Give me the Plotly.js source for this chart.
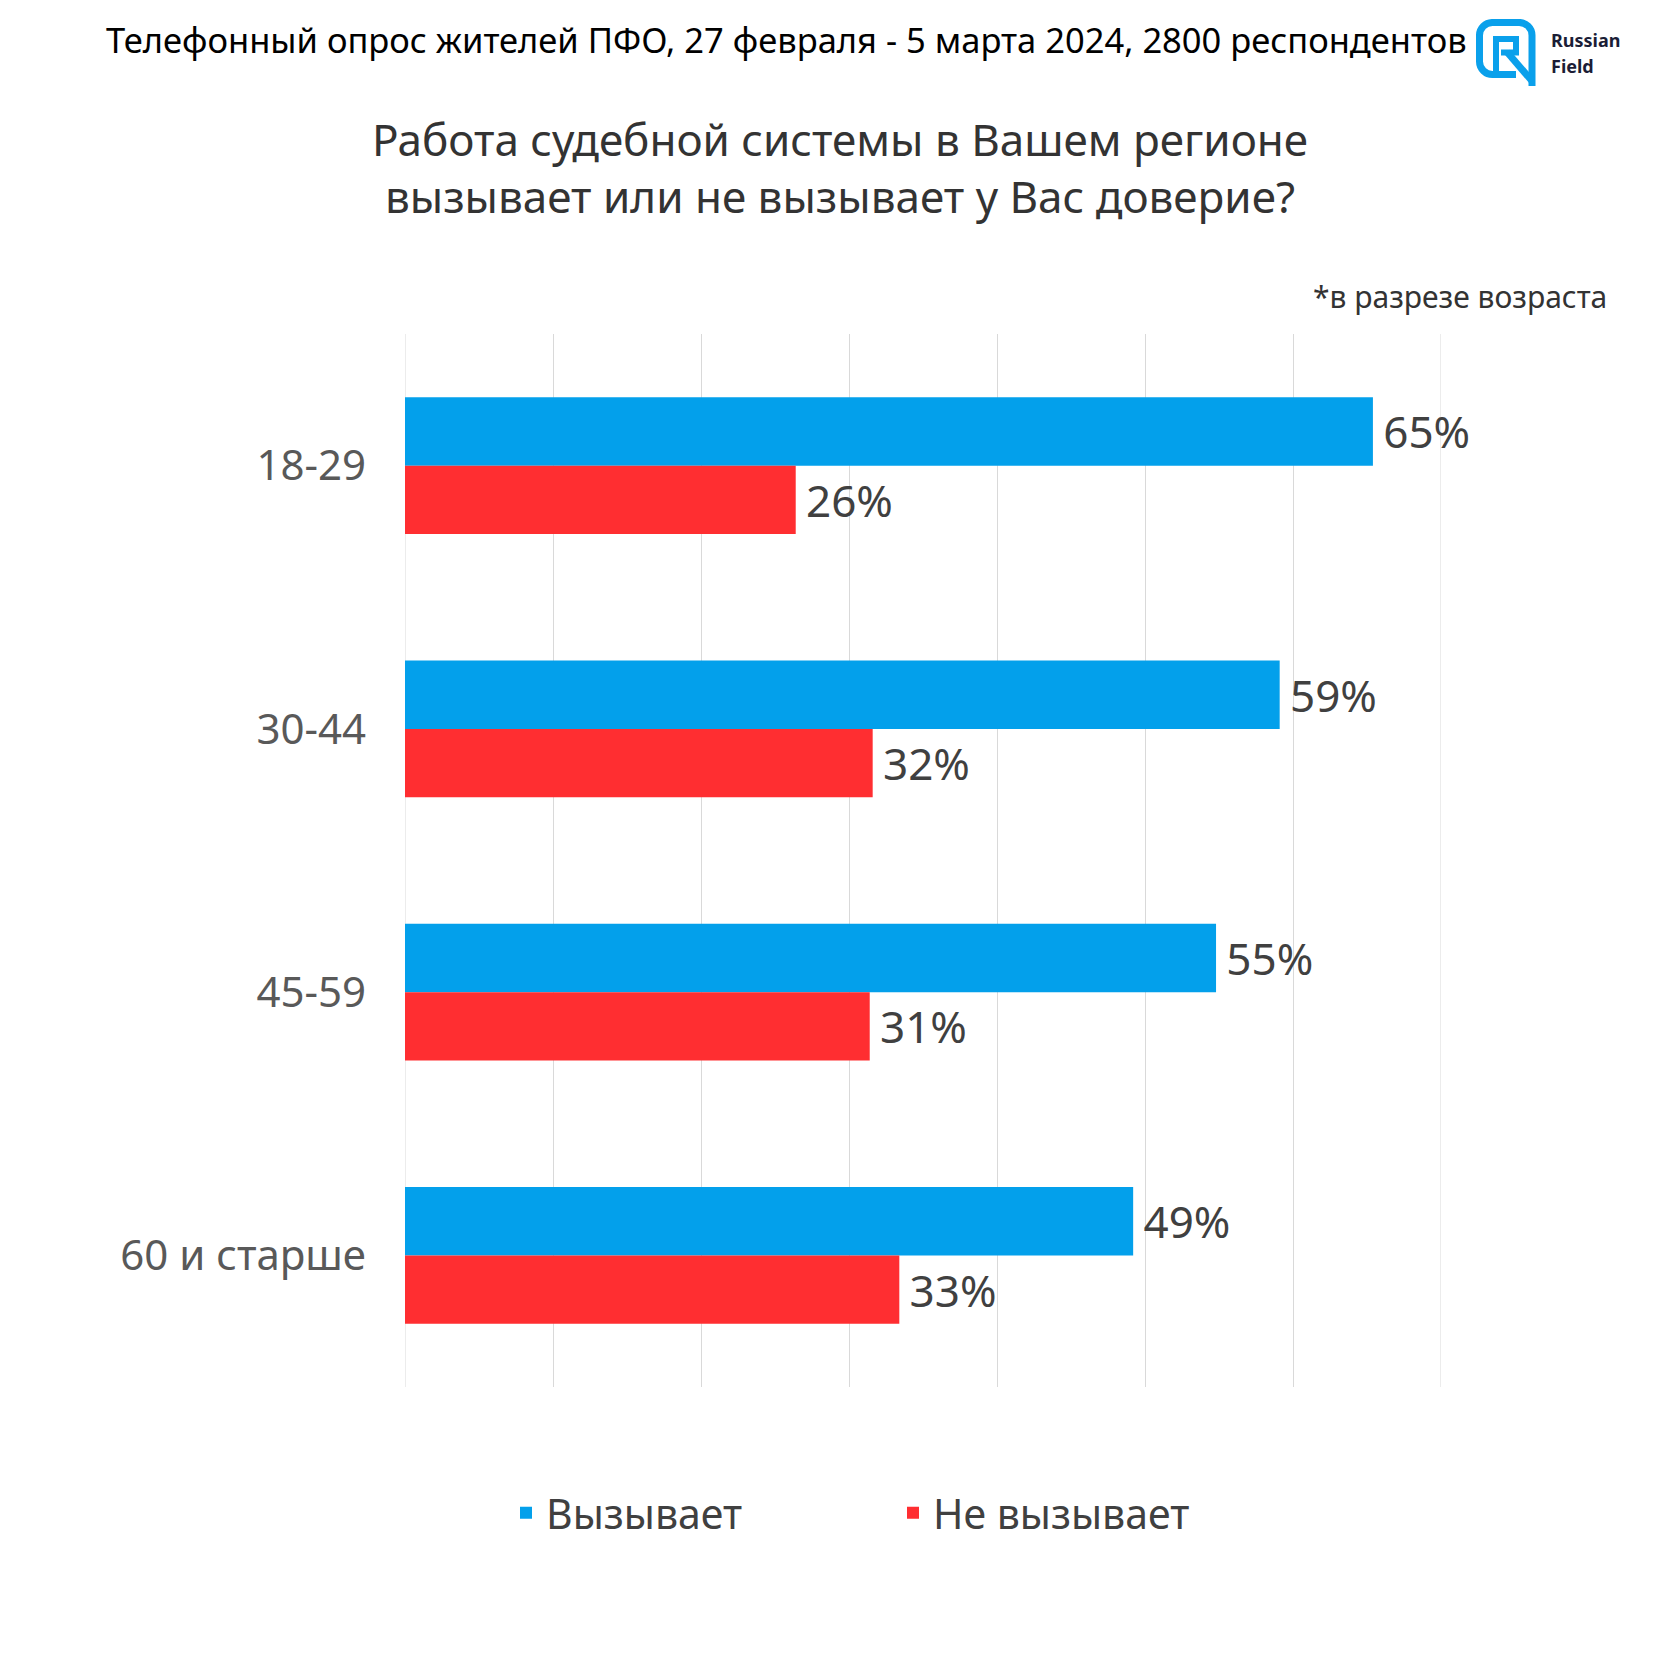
<!DOCTYPE html>
<html>
<head>
<meta charset="utf-8">
<script src="https://cdn.plot.ly/plotly-3.0.1.min.js"></script>
<style>html,body{margin:0;padding:0;background:#fff;}#chart{width:1680px;height:1680px;}</style>
</head>
<body>
<div id="chart"></div>
<script>
// ---- data ----
const categories = ['18-29', '30-44', '45-59', '60 и старше'];
const trustYes = [65.4, 59.1, 54.8, 49.2];
const trustNo = [26.4, 31.6, 31.4, 33.4];
const seriesNames = ['Вызывает', 'Не вызывает'];
const axisRange = [0, 70];
const headerText = 'Телефонный опрос жителей ПФО, 27 февраля - 5 марта 2024, 2800 респондентов';
const titleText = 'Работа судебной системы в Вашем регионе<br>вызывает или не вызывает у Вас доверие?';
const noteText = '*в разрезе возраста';

// ---- layout helpers (pixel -> paper) ----
const W = 1680, H = 1680;
const mL = 405, mR = 239, mT = 334, mB = 293;
const pw = W - mL - mR, ph = H - mT - mB;
const px2x = p => (p - mL) / pw;
const py2y = p => (H - mB - p) / ph;

const FONT = 'Noto Sans, Open Sans, sans-serif';
const BLUE = '#03A0EB';
const RED = '#FF2E31';
const GRID = '#d9d9d9';

const fmt = arr => arr.map(v => '\u2009' + Math.round(v) + '%');

const traces = [
  {
    type: 'bar', orientation: 'h', name: seriesNames[0],
    y: categories, x: trustYes, text: fmt(trustYes),
    textposition: 'outside', constraintext: 'none', cliponaxis: false,
    textfont: {family: FONT, size: 44, color: '#404040'},
    marker: {color: BLUE}, hoverinfo: 'skip'
  },
  {
    type: 'bar', orientation: 'h', name: seriesNames[1],
    y: categories, x: trustNo, text: fmt(trustNo),
    textposition: 'outside', constraintext: 'none', cliponaxis: false,
    textfont: {family: FONT, size: 44, color: '#404040'},
    marker: {color: RED}, hoverinfo: 'skip'
  }
];

const logoSvg = '<svg xmlns="http://www.w3.org/2000/svg" viewBox="0 0 60 68" width="60" height="68">' +
  '<path d="M40,55.5 H17 A13,13 0 0 1 3.5,42.5 V17 A13,13 0 0 1 17,3.5 H42 A13,13 0 0 1 56,17 V67" fill="none" stroke="#0AA0EB" stroke-width="7"/>' +
  '<path d="M20,52 V20 H40 V33.5 H25" fill="none" stroke="#0AA0EB" stroke-width="6"/>' +
  '<path d="M31,33 L56,62" fill="none" stroke="#0AA0EB" stroke-width="7"/>' +
  '</svg>';
const logoSrc = 'data:image/svg+xml;charset=utf-8,' + encodeURIComponent(logoSvg);

// edge gridlines (Plotly drops gridlines lying on the plot border)
const edgeLines = axisRange.map(v => ({
  type: 'line', xref: 'x', yref: 'paper', x0: v, x1: v, y0: 0, y1: 1,
  line: {color: GRID, width: 1}, layer: 'below'
}));

const layout = {
  width: W, height: H,
  paper_bgcolor: '#ffffff', plot_bgcolor: '#ffffff',
  margin: {l: mL, r: mR, t: mT, b: mB, pad: 0},
  font: {family: FONT, color: '#404040'},
  showlegend: true,
  barmode: 'group', bargap: 0.48, bargroupgap: 0,
  title: {
    text: titleText, x: 0.5, xref: 'container', xanchor: 'center',
    y: 1 - 156 / H, yref: 'container', yanchor: 'middle',
    font: {family: FONT, size: 44, color: '#333333'}
  },
  xaxis: {
    range: axisRange, dtick: 10, tick0: 0, showgrid: true, gridcolor: GRID, gridwidth: 1,
    showticklabels: false, zeroline: false, showline: false, ticks: '', fixedrange: true
  },
  yaxis: {
    type: 'category', autorange: 'reversed', showgrid: false, zeroline: false, showline: false,
    ticks: '', ticklabelstandoff: 38,
    tickfont: {family: FONT, size: 42, color: '#595959'}, fixedrange: true
  },
  legend: {
    orientation: 'h', x: px2x(893), xanchor: 'center', y: py2y(1513), yanchor: 'middle',
    font: {family: FONT, size: 41, color: '#404040'},
    entrywidth: 342, entrywidthmode: 'pixels', traceorder: 'normal'
  },
  shapes: edgeLines,
  annotations: [
    {xref: 'paper', yref: 'paper', x: px2x(786), y: py2y(40), xanchor: 'center', yanchor: 'middle',
     text: headerText, showarrow: false, font: {family: FONT, size: 34.5, color: '#000000'}},
    {xref: 'paper', yref: 'paper', x: px2x(1609), y: py2y(296), xanchor: 'right', yanchor: 'middle',
     text: noteText, showarrow: false, font: {family: FONT, size: 30, color: '#333333'}},
    {xref: 'paper', yref: 'paper', x: px2x(1549), y: py2y(40), xanchor: 'left', yanchor: 'middle',
     text: '<b>Russian</b>', showarrow: false, font: {family: FONT, size: 18, color: '#1B1D36'}},
    {xref: 'paper', yref: 'paper', x: px2x(1549), y: py2y(66), xanchor: 'left', yanchor: 'middle',
     text: '<b>Field</b>', showarrow: false, font: {family: FONT, size: 18, color: '#1B1D36'}}
  ],
  images: [
    {source: logoSrc, xref: 'paper', yref: 'paper', x: px2x(1476), y: py2y(19),
     sizex: 60 / pw, sizey: 68 / ph, xanchor: 'left', yanchor: 'top', sizing: 'stretch', layer: 'above'}
  ]
};

Plotly.newPlot('chart', traces, layout, {displayModeBar: false, staticPlot: true});
</script>
</body>
</html>
